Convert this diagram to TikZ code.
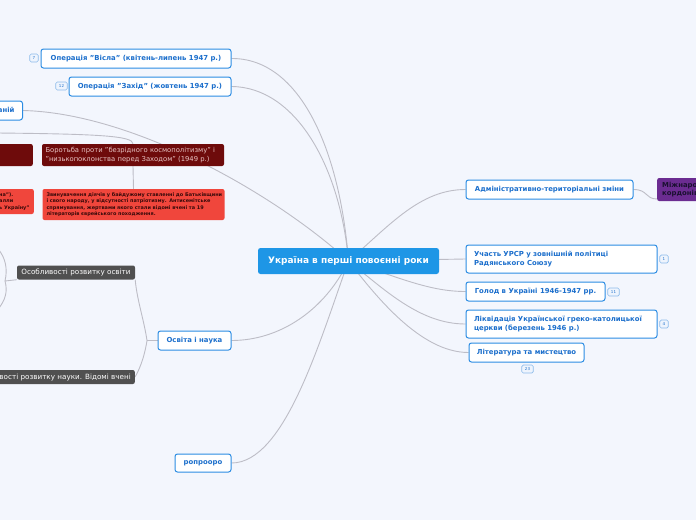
\documentclass[tikz,border=0pt]{standalone}
\usepackage{fontspec}
\setmainfont{DejaVu Sans}
\usetikzlibrary{backgrounds}
\definecolor{bgc}{HTML}{F3F6FD}
\definecolor{linec}{HTML}{BDBDC6}
\definecolor{bbord}{HTML}{2B8CE3}
\definecolor{btext}{HTML}{1C6FCC}
\definecolor{rootc}{HTML}{1E96E6}
\definecolor{dred}{HTML}{6E0B0B}
\definecolor{dredtext}{HTML}{E8C4C4}
\definecolor{redc}{HTML}{F0463C}
\definecolor{redtext}{HTML}{3A0A0A}
\definecolor{grayc}{HTML}{505050}
\definecolor{purc}{HTML}{6B2C91}
\definecolor{purtext}{HTML}{1A1030}
\definecolor{icbord}{HTML}{8DBBEA}
\definecolor{icfill}{HTML}{EEF4FD}
\pgfdeclarelayer{bg}
\pgfsetlayers{bg,background,main}
\begin{document}
\begin{tikzpicture}[x=1pt,y=-1pt,
  blbox/.style={draw=bbord, fill=white, rounded corners=2.5pt, line width=1pt, text=btext,
    font=\bfseries\fontsize{6.9}{8.8}\selectfont, inner xsep=0pt, inner ysep=0pt, align=left},
  rootbox/.style={fill=rootc, rounded corners=2.5pt, text=white,
    font=\bfseries\fontsize{9}{11}\selectfont, inner sep=0pt},
  dredbox/.style={fill=dred, rounded corners=2pt, text=dredtext,
    font=\fontsize{6.8}{8.6}\selectfont, inner sep=0pt, align=left},
  redbox/.style={fill=redc, rounded corners=2pt, text=redtext,
    font=\bfseries\fontsize{4.95}{6.6}\selectfont, inner sep=0pt, align=left},
  graybox/.style={fill=grayc, rounded corners=2pt, text=white,
    font=\fontsize{7.2}{8}\selectfont, inner sep=0pt},
  purbox/.style={fill=purc, rounded corners=2pt, text=purtext,
    font=\bfseries\fontsize{6.9}{8.8}\selectfont, inner sep=0pt, align=left},
  icn/.style={draw=icbord, fill=icfill, rounded corners=1.5pt, line width=0.7pt, text=btext,
    font=\fontsize{4}{4.5}\selectfont, minimum height=8pt, inner xsep=1.5pt, inner ysep=0pt},
  conn/.style={draw=linec, line width=0.9pt}
]
\useasboundingbox (0,0) rectangle (696,520);
\clip (0,0) rectangle (696,520);
\begin{pgfonlayer}{bg}
  \fill[bgc] (0,0) rectangle (696,520);
\end{pgfonlayer}

% root
\node[rootbox, minimum width=181pt, minimum height=26pt] (root) at (348.5,261) {Україна в перші повоєнні роки};

% top-left
\node[blbox, minimum width=190pt, minimum height=19pt] (visla) at (136,58.5) {Операція "Вісла" (квітень-липень 1947 р.)};
\node[blbox, minimum width=162pt, minimum height=19pt] (zakhid) at (150,86.5) {Операція "Захід" (жовтень 1947 р.)};
\node[icn, minimum width=8.5pt] (i7) at (34,58) {7};
\node[icn, minimum width=11.5pt] (i12) at (61.5,86) {12};
\node[blbox, minimum height=19pt, inner xsep=8pt, anchor=east] (kamp) at (23,110.5) {Проведення ідеологічних кампаній};

% ideological campaign nodes
\node[dredbox, minimum width=80pt, minimum height=22pt, anchor=east] (dl) at (33,155) {};
\node[dredbox, minimum width=182pt, minimum height=22pt, text width=175pt] (borot) at (133,155) {Боротьба проти "безрідного космополітизму" і\\"низькопоклонства перед Заходом" (1949 р.)};
\node[redbox, minimum width=80pt, minimum height=25pt, anchor=east] (rl) at (34,201.5) {};
\node[redbox, anchor=west, inner sep=0pt] (rltext) at (-1,201.5) {на").\\алли\\ь Україну"};
\node[redbox, minimum width=182pt, minimum height=31pt, text width=181pt, inner xsep=0pt] (zvyn) at (133.5,204.5) {\hspace*{3.5pt}Звинувачення діячів у байдужому ставленні до Батьківщини\\\hspace*{3.5pt}і свого народу, у відсутності патріотизму. Антисемітське\\\hspace*{3.5pt}спрямування, жертвами якого стали відомі вчені та 19\\\hspace*{3.5pt}літераторів єврейського походження.};
\coordinate (lft) at (-3,133);

% education
\node[graybox, minimum width=118pt, minimum height=14pt] (osvf) at (76,272.5) {Особливості розвитку освіти};
\node[graybox, minimum height=14pt, inner xsep=4pt, anchor=east] (naukf) at (135,377) {Особливості розвитку науки. Відомі вчені};
\node[blbox, minimum width=73pt, minimum height=19pt] (osvita) at (194.5,340.5) {Освіта і наука};
\node[blbox, minimum width=56pt, minimum height=18pt] (ropr) at (203,463) {ропроорo};
\coordinate (ob) at (147,340.5);
\coordinate (oa) at (5,281);

% right side
\node[blbox, minimum width=167pt, minimum height=19pt] (admin) at (549.5,189.5) {Адміністративно-територіальні зміни};
\node[purbox, minimum width=60pt, minimum height=23pt, inner xsep=5pt, anchor=west] (pur) at (657,189.5) {Міжнародне визнання\\кордонів УРСР};
\node[blbox, minimum width=191pt, minimum height=28pt, text width=175pt] (uchast) at (561.5,259) {Участь УРСР у зовнішній політиці\\Радянського Союзу};
\node[blbox, minimum width=139pt, minimum height=19pt] (holod) at (535.5,291.5) {Голод в Україні 1946-1947 рр.};
\node[blbox, minimum width=191pt, minimum height=28pt, text width=175pt] (likv) at (561.5,324) {Ліквідація Української греко-католицької\\церкви (березень 1946 р.)};
\node[blbox, minimum width=115pt, minimum height=19pt] (lit) at (526.5,352.5) {Література та мистецтво};
\node[icn, minimum width=8.5pt] (i1) at (664,259) {1};
\node[icn, minimum width=11.5pt] (i11) at (613.5,292) {11};
\node[icn, minimum width=8.5pt] (i4) at (664,324) {4};
\node[icn, minimum width=11.5pt] (i23) at (527.5,369) {23};
\coordinate (purin) at (657,199);

\begin{pgfonlayer}{background}
  \draw[conn] (visla.east) .. controls (300,58) and (340,150) .. (root.center);
  \draw[conn] (zakhid.east) .. controls (295,87) and (340,165) .. (root.center);
  \draw[conn] (kamp.east) .. controls (130,113) and (270,190) .. (root.center);
  \draw[conn] (root.center) .. controls (390,225) and (420,189.5) .. (admin.west);
  \draw[conn] (root.center) -- (uchast.west);
  \draw[conn] (root.center) .. controls (400,278) and (430,291.5) .. (holod.west);
  \draw[conn] (root.center) .. controls (385,290) and (420,324) .. (likv.west);
  \draw[conn] (root.center) .. controls (375,295) and (420,352.5) .. (lit.west);
  \draw[conn] (root.center) .. controls (325,310) and (280,340.5) .. (osvita.east);
  \draw[conn] (root.center) .. controls (320,340) and (285,463) .. (ropr.east);
  \draw[conn] (admin.east) .. controls (648,189.5) and (645,199) .. (purin);
  \draw[conn] (lft) .. controls (100,134) and (133,136) .. (borot.north);
  \draw[conn] (borot.south) -- (zvyn.north);
  \draw[conn] (osvita.west) -- (ob);
  \draw[conn] (ob) .. controls (144,320) and (137,300) .. (osvf.south east);
  \draw[conn] (ob) .. controls (144,360) and (138,372) .. (naukf.east);
  \draw[conn] (osvf.south west) -- (oa);
  \draw[conn] (oa) .. controls (8,268) and (5,258) .. (-1,250);
  \draw[conn] (oa) .. controls (8,292) and (5,300) .. (-1,308);
\end{pgfonlayer}
\end{tikzpicture}
\end{document}
